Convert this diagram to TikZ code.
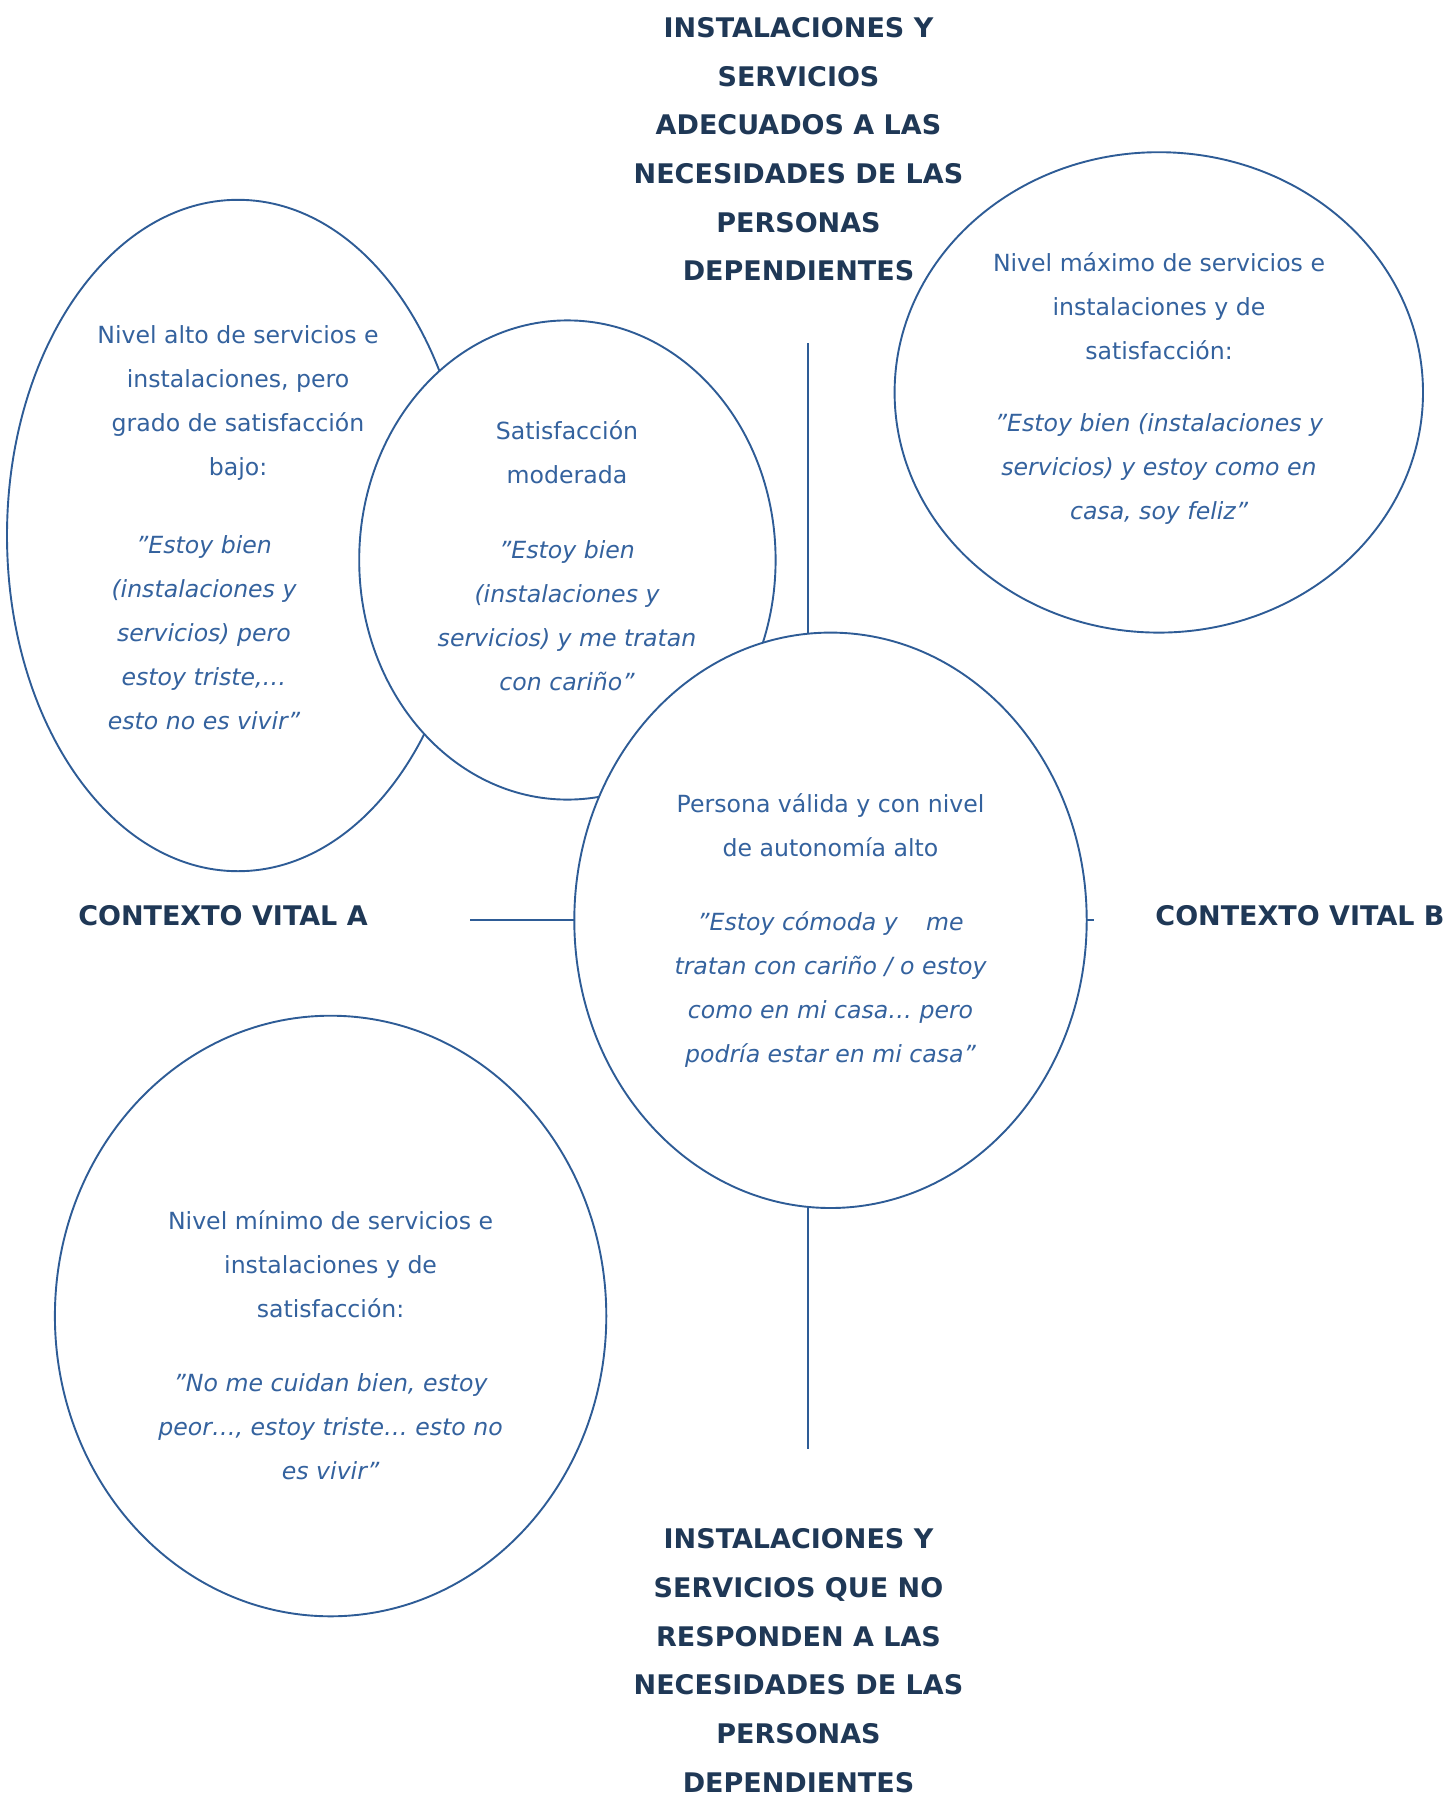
\documentclass[tikz,border=0pt]{standalone}
\usepackage{fontspec}
\setmainfont{DejaVu Sans}
\usetikzlibrary{shapes.geometric}
\definecolor{navy}{RGB}{31,56,86}
\definecolor{bodyblue}{RGB}{52,98,158}
\definecolor{edgeblue}{RGB}{46,92,150}
\newcommand{\dq}{\char"22\relax}
\tikzset{
  blob/.style={ellipse, draw=edgeblue, line width=0.95pt, fill=white, inner sep=0pt, outer sep=0pt},
  body/.style={text=bodyblue, align=center, inner sep=0pt, font=\fontsize{11.8}{22}\selectfont},
  quote/.style={text=bodyblue, align=center, inner sep=0pt, font=\fontsize{11.8}{22}\selectfont\itshape},
  title/.style={text=navy, align=center, inner sep=0pt, font=\fontsize{13.5}{24.35}\selectfont\bfseries},
  axis/.style={draw=edgeblue, line width=0.95pt}
}
\begin{document}
\begin{tikzpicture}[x=0.5pt, y=-0.5pt]
\useasboundingbox (0,0) rectangle (1447,1793);
% axes
\coordinate (vt) at (807.6,343);
\coordinate (vb) at (807.6,1449);
\coordinate (hl) at (470,920);
\coordinate (hr) at (1094,920);
\draw[axis] (vt) -- (vb);
\draw[axis] (hl) -- (hr);
% ellipses
\node[blob, minimum width=231pt, minimum height=335.7pt] (E1) at (238,535.5) {};
\node[blob, minimum width=208.2pt, minimum height=239.6pt] (E2) at (567.4,560) {};
\node[blob, minimum width=264.2pt, minimum height=240.2pt] (E3) at (1158.8,392.4) {};
\node[blob, minimum width=275.7pt, minimum height=300.3pt] (E5) at (330.6,1316) {};
\node[blob, minimum width=256.2pt, minimum height=287.7pt] (E4) at (830.5,920.3) {};
% texts
\node[body] (t1a) at (238,403) {Nivel alto de servicios e\\instalaciones, pero\\grado de satisfacción\\bajo:};
\node[quote] (t1b) at (204,632.6) {\dq Estoy bien\\(instalaciones y\\servicios) pero\\estoy triste,…\\esto no es vivir\dq};
\node[body] (t2a) at (567,451.8) {Satisfacción\\moderada};
\node[quote] (t2b) at (567,615.3) {\dq Estoy bien\\(instalaciones y\\servicios) y me tratan\\con cariño\dq};
\node[body] (t3a) at (1159,306) {Nivel máximo de servicios e\\instalaciones y de\\satisfacción:};
\node[quote] (t3b) at (1159,469) {\dq Estoy bien (instalaciones y\\servicios) y estoy como en\\casa, soy feliz\dq};
\node[body] (t4a) at (830.5,824.75) {Persona válida y con nivel\\de autonomía alto};
\node[quote] (t4b) at (830.5,989.5) {\dq Estoy cómoda y\hspace{1.2em}me\\tratan con cariño / o estoy\\como en mi casa… pero\\podría estar en mi casa\dq};
\node[body] (t5a) at (330.6,1264) {Nivel mínimo de servicios e\\instalaciones y de\\satisfacción:};
\node[quote] (t5b) at (330.6,1427) {\dq No me cuidan bien, estoy\\peor…, estoy triste… esto no\\es vivir\dq};
% titles
\node[title] (top) at (798.5,149.3) {INSTALACIONES Y\\SERVICIOS\\ADECUADOS A LAS\\NECESIDADES DE LAS\\PERSONAS\\DEPENDIENTES};
\node[title] (bottom) at (798.5,1660.5) {INSTALACIONES Y\\SERVICIOS QUE NO\\RESPONDEN A LAS\\NECESIDADES DE LAS\\PERSONAS\\DEPENDIENTES};
\node[title] (ctxA) at (223,916) {CONTEXTO VITAL A};
\node[title] (ctxB) at (1300,916) {CONTEXTO VITAL B};
\end{tikzpicture}
\end{document}
